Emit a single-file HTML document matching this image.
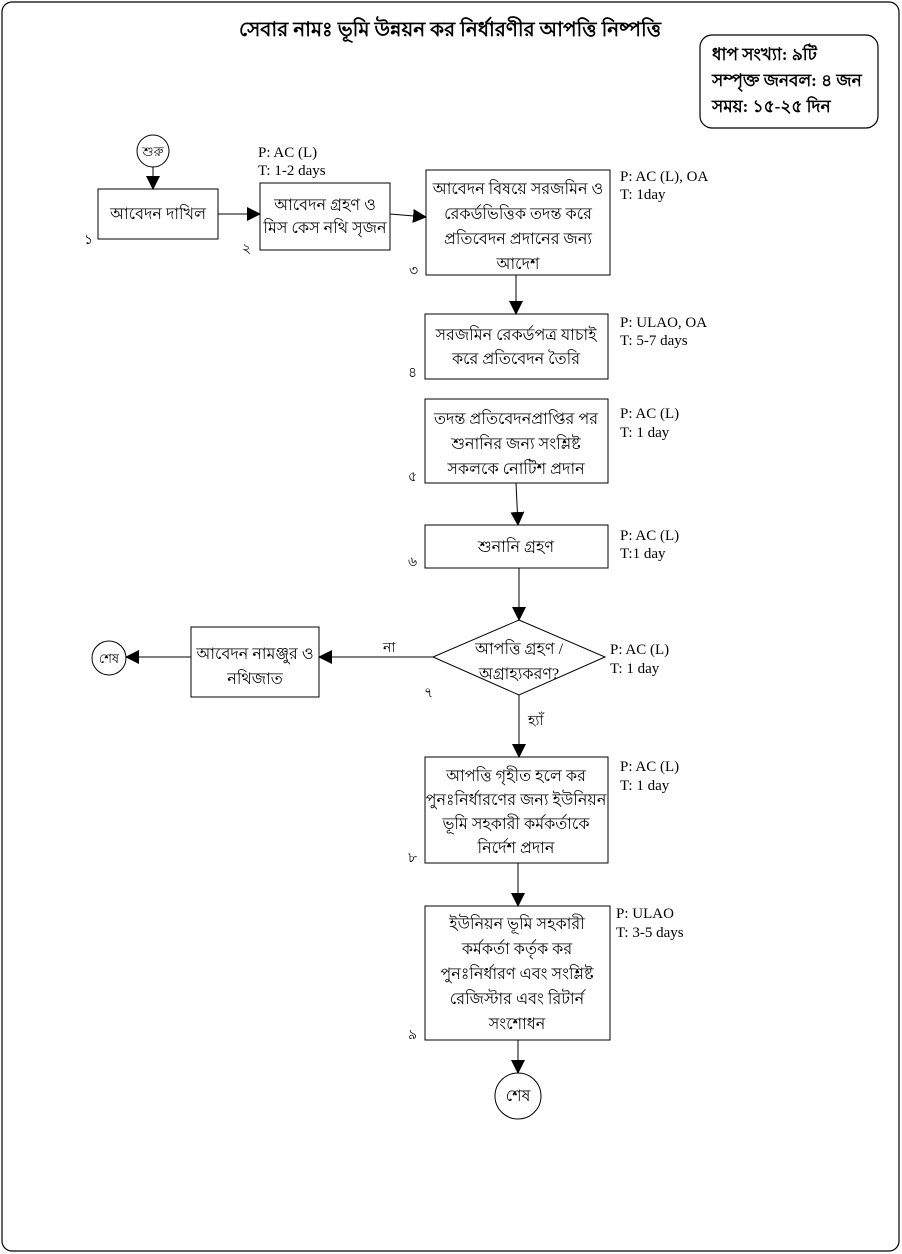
<!DOCTYPE html>
<html><head><meta charset="utf-8"><style>
body{margin:0;background:#fff;}
svg{display:block;font-family:"Liberation Serif","Noto Sans CJK SC",serif;}
.b{font-size:16px;}
.l{font-size:15px;}
</style></head><body>
<svg width="902" height="1254" viewBox="0 0 902 1254" xmlns="http://www.w3.org/2000/svg">
<defs><marker id="a2" markerWidth="14" markerHeight="14" refX="13" refY="7" orient="auto" markerUnits="userSpaceOnUse"><path d="M0,0 L14,7 L0,14 z" fill="#000"/></marker></defs>
<rect x="2" y="2" width="897" height="1249" rx="10" fill="none" stroke="#000" stroke-width="1.2"/>
<text x="450" y="36" text-anchor="middle" font-size="20" font-weight="bold">সেবার নামঃ ভূমি উন্নয়ন কর নির্ধারণীর আপত্তি নিষ্পত্তি</text>
<rect x="700" y="35" width="178" height="93" rx="12" fill="none" stroke="#000" stroke-width="1.2"/>
<g font-size="17" font-weight="bold"><text x="712" y="60">ধাপ সংখ্যা: ৯টি</text><text x="712" y="86">সম্পৃক্ত জনবল: ৪ জন</text><text x="712" y="112">সময়: ১৫-২৫ দিন</text></g>
<g fill="none" stroke="#000" stroke-width="1">
<circle cx="153" cy="151" r="16"/>
<rect x="98" y="189" width="120" height="50"/>
<rect x="260" y="183" width="130" height="67"/>
<rect x="426" y="170" width="184" height="105"/>
<rect x="425" y="314" width="183" height="65"/>
<rect x="425" y="399" width="183" height="84"/>
<rect x="425" y="525" width="183" height="43"/>
<path d="M519,620 L605,657 L519,695 L433,657 Z"/>
<rect x="191" y="627" width="128" height="70"/>
<circle cx="109" cy="658" r="17"/>
<rect x="425" y="757" width="183" height="106"/>
<rect x="425" y="906" width="185" height="134"/>
<circle cx="518" cy="1096" r="23"/>
<g marker-end="url(#a2)">
<line x1="153" y1="167" x2="153" y2="189"/>
<line x1="218" y1="214" x2="260" y2="214"/>
<line x1="390" y1="214" x2="426" y2="217"/>
<line x1="516" y1="275" x2="516" y2="314"/>
<line x1="516" y1="483" x2="518" y2="525"/>
<line x1="519" y1="568" x2="519" y2="620"/>
<line x1="433" y1="657" x2="319" y2="657"/>
<line x1="191" y1="657" x2="126" y2="657"/>
<line x1="519" y1="695" x2="519" y2="757"/>
<line x1="518" y1="863" x2="518" y2="906"/>
<line x1="518" y1="1040" x2="518" y2="1073"/>
</g></g>
<g class="b" text-anchor="middle">
<text x="153" y="156" font-size="13">শুরু</text>
<text x="158" y="219">আবেদন দাখিল</text>
<text x="325" y="210">আবেদন গ্রহণ ও</text><text x="325" y="233">মিস কেস নথি সৃজন</text>
<text x="518" y="194">আবেদন বিষয়ে সরজমিন ও</text><text x="518" y="219">রেকর্ডভিত্তিক তদন্ত করে</text><text x="518" y="244">প্রতিবেদন প্রদানের জন্য</text><text x="518" y="269">আদেশ</text>
<text x="516" y="340">সরজমিন রেকর্ডপত্র যাচাই</text><text x="516" y="364">করে প্রতিবেদন তৈরি</text>
<text x="516" y="424">তদন্ত প্রতিবেদনপ্রাপ্তির পর</text><text x="516" y="449">শুনানির জন্য সংশ্লিষ্ট</text><text x="516" y="474">সকলকে নোটিশ প্রদান</text>
<text x="516" y="552">শুনানি গ্রহণ</text>
<text x="519" y="654">আপত্তি গ্রহণ /</text><text x="519" y="679">অগ্রাহ্যকরণ?</text>
<text x="255" y="659">আবেদন নামঞ্জুর ও</text><text x="255" y="684">নথিজাত</text>
<text x="109" y="663" font-size="13">শেষ</text>
<text x="516" y="781">আপত্তি গৃহীত হলে কর</text><text x="516" y="805">পুনঃনির্ধারণের জন্য ইউনিয়ন</text><text x="516" y="829">ভূমি সহকারী কর্মকর্তাকে</text><text x="516" y="853">নির্দেশ প্রদান</text>
<text x="517" y="929">ইউনিয়ন ভূমি সহকারী</text><text x="517" y="954">কর্মকর্তা কর্তৃক কর</text><text x="517" y="979">পুনঃনির্ধারণ এবং সংশ্লিষ্ট</text><text x="517" y="1004">রেজিস্টার এবং রিটার্ন</text><text x="517" y="1029">সংশোধন</text>
<text x="518" y="1101">শেষ</text>
</g>
<g class="l">
<text x="258" y="157">P: AC (L)</text><text x="258" y="175">T: 1-2 days</text>
<text x="620" y="181">P: AC (L), OA</text><text x="620" y="199">T: 1day</text>
<text x="620" y="327">P: ULAO, OA</text><text x="620" y="345">T: 5-7 days</text>
<text x="620" y="418">P: AC (L)</text><text x="620" y="437">T: 1 day</text>
<text x="620" y="540">P: AC (L)</text><text x="620" y="558">T:1 day</text>
<text x="610" y="654">P: AC (L)</text><text x="610" y="673">T: 1 day</text>
<text x="620" y="771">P: AC (L)</text><text x="620" y="790">T: 1 day</text>
<text x="616" y="918">P: ULAO</text><text x="616" y="937">T: 3-5 days</text>
</g>
<g font-size="14">
<text x="84" y="244">১</text><text x="242" y="253">২</text><text x="409" y="275">৩</text><text x="408" y="377">৪</text><text x="408" y="481">৫</text><text x="408" y="566">৬</text><text x="424" y="697">৭</text><text x="408" y="862">৮</text><text x="408" y="1039">৯</text>
<text x="383" y="652">না</text><text x="528" y="725">হ্যাঁ</text>
</g>
</svg>
</body></html>
